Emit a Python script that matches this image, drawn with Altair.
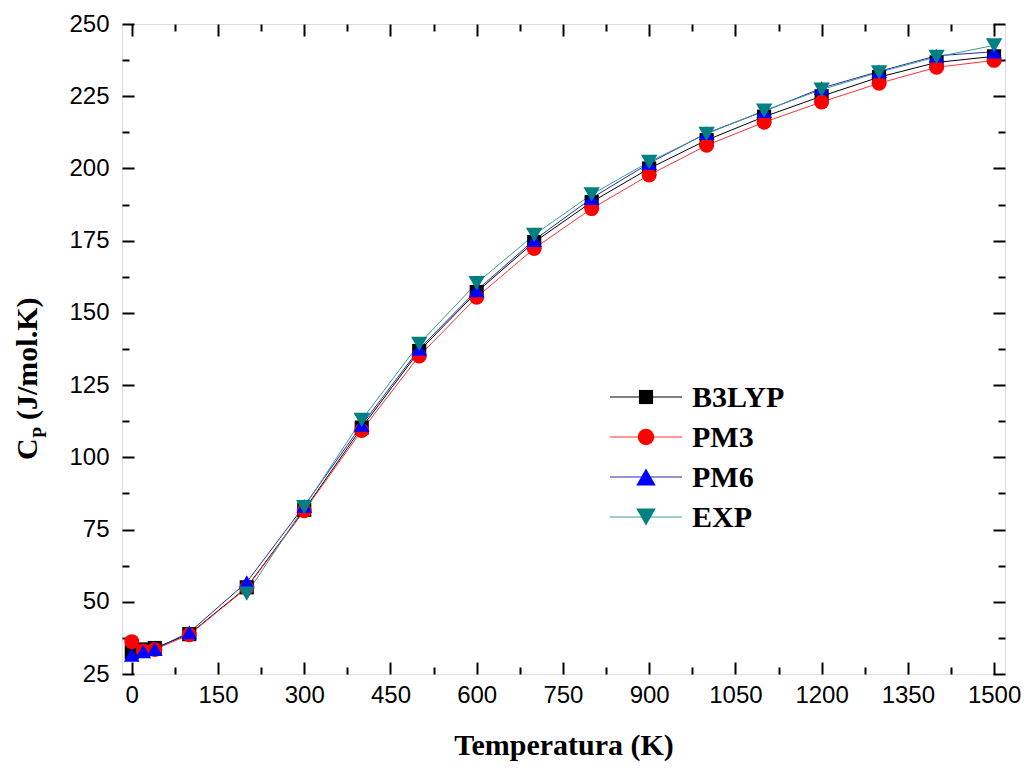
import altair as alt
import pandas as pd

# ---- data ----
T_calc = [0, 20, 40, 100, 200, 300, 400, 500, 600, 700, 800, 900, 1000, 1100, 1200, 1300, 1400, 1500]
b3lyp = [32.5, 33.5, 34.0, 38.8, 55.0, 81.8, 110.3, 136.8, 157.2, 174.5, 188.4, 200.0, 209.8, 217.9, 225.0, 231.6, 236.7, 238.8]
pm3 = [36.2, 33.0, 33.5, 38.6, 54.8, 81.5, 109.3, 135.1, 155.4, 172.3, 186.1, 197.7, 208.0, 216.0, 223.0, 229.5, 235.0, 237.4]
pm6 = [31.6, 32.8, 33.6, 39.4, 56.8, 83.2, 111.2, 137.5, 157.8, 175.2, 189.7, 201.8, 212.2, 219.8, 227.8, 233.6, 239.0, 240.4]
T_exp = [200, 300, 400, 500, 600, 700, 800, 900, 1000, 1100, 1200, 1300, 1400, 1500]
exp = [52.8, 82.8, 113.0, 139.3, 160.3, 177.0, 191.0, 202.3, 212.0, 220.0, 227.3, 233.3, 238.6, 242.6]

series_names = ["B3LYP", "PM3", "PM6", "EXP"]
marker_colors = ["#000000", "#ff0000", "#0000ff", "#008080"]
line_colors = ["#000000", "#ff3030", "#2828a8", "#3a9a9a"]
shapes = ["square", "circle", "triangle-up", "triangle-down"]
marker_sizes = [200, 270, 380, 380]

x_major = [0, 150, 300, 450, 600, 750, 900, 1050, 1200, 1350, 1500]
x_minor = [75, 225, 375, 525, 675, 825, 975, 1125, 1275, 1425]
y_major = [25, 50, 75, 100, 125, 150, 175, 200, 225, 250]
y_minor = [37.5, 62.5, 87.5, 112.5, 137.5, 162.5, 187.5, 212.5, 237.5]

rows = []
for name, ts, vals in [("B3LYP", T_calc, b3lyp), ("PM3", T_calc, pm3),
                       ("PM6", T_calc, pm6), ("EXP", T_exp, exp)]:
    for t, v in zip(ts, vals):
        rows.append({"T": t, "Cp": v, "series": name, "k": series_names.index(name)})
df = pd.DataFrame(rows)

W, H = 883, 650
xs = alt.Scale(domain=[-17, 1519], nice=False, zero=False)
ys = alt.Scale(domain=[25, 250], nice=False, zero=False)

base = alt.Chart(df)

lines = base.mark_line(strokeWidth=1).encode(
    x=alt.X("T:Q", scale=xs, axis=alt.Axis(
        values=x_major, format="d", title="Temperatura (K)", ticks=False, tickSize=0, domain=False, grid=False,
        labelFont="Liberation Sans", labelFontSize=24, labelColor="black", labelPadding=9,
        titleFont="Liberation Serif", titleFontWeight="bold", titleFontSize=30, titleColor="black",
        titlePadding=23)),
    y=alt.Y("Cp:Q", scale=ys, axis=alt.Axis(
        values=y_major, format="d", title=None, ticks=False, tickSize=0, domain=False, grid=False,
        labelFont="Liberation Sans", labelFontSize=24, labelColor="black", labelPadding=13)),
    color=alt.Color("series:N", scale=alt.Scale(domain=series_names, range=line_colors), legend=None),
    order="T:Q",
)

points = base.mark_point(filled=True, opacity=1, strokeWidth=0).encode(
    x=alt.X("T:Q", scale=xs, axis=None),
    y=alt.Y("Cp:Q", scale=ys, axis=None),
    fill=alt.Fill("series:N", scale=alt.Scale(domain=series_names, range=marker_colors), legend=None),
    shape=alt.Shape("series:N", scale=alt.Scale(domain=series_names, range=shapes), legend=None),
    size=alt.Size("series:N", scale=alt.Scale(domain=series_names, range=marker_sizes), legend=None),
    order="k:Q",
)


def tick_axis(orient, values, size, offset):
    return alt.Axis(orient=orient, offset=offset, values=values, labels=False, domain=False,
                    grid=False, ticks=True, tickSize=size, tickWidth=2, tickColor="black", title=None)


tick_layers = []
for orient, vals, size in [("top", x_major, 12), ("top", x_minor, 7),
                           ("bottom", x_major, 12), ("bottom", x_minor, 7)]:
    tick_layers.append(base.mark_point(opacity=0).encode(
        x=alt.X("T:Q", scale=xs, axis=tick_axis(orient, vals, size, -H)),
        y=alt.Y("Cp:Q", scale=ys, axis=None)))
for orient, vals, size in [("right", y_major, 12), ("right", y_minor, 7),
                           ("left", y_major, 12), ("left", y_minor, 7)]:
    tick_layers.append(base.mark_point(opacity=0).encode(
        x=alt.X("T:Q", scale=xs, axis=None),
        y=alt.Y("Cp:Q", scale=ys, axis=tick_axis(orient, vals, size, -W))))

# ---- manual legend (line + symbol + label) ----
legend_layers = []
lx0, lx1, lsym, ltxt, ly0, ldy = 488, 560, 524, 570, 373, 40
for i, name in enumerate(series_names):
    one = alt.Chart(pd.DataFrame({"series": [name]}))
    yy = ly0 + i * ldy
    legend_layers.append(one.mark_rule(strokeWidth=1, color=line_colors[i]).encode(
        x=alt.value(lx0), x2=alt.value(lx1), y=alt.value(yy)))
    legend_layers.append(one.mark_point(filled=True, opacity=1, size=marker_sizes[i], strokeWidth=0,
                                        shape=shapes[i], fill=marker_colors[i]).encode(
        x=alt.value(lsym), y=alt.value(yy)))
    legend_layers.append(one.mark_text(align="left", baseline="middle", font="Liberation Serif",
                                       fontWeight="bold", fontSize=30, color="black", dy=1).encode(
        x=alt.value(ltxt), y=alt.value(yy), text="series:N"))

# ---- y title: C with subscript P ----
ttl = alt.Chart(pd.DataFrame({"a": [0]}))
ytitle = [
    ttl.mark_text(text="C", angle=270, align="left", baseline="alphabetic", font="Liberation Serif",
                  fontWeight="bold", fontSize=30, color="black").encode(x=alt.value(-85), y=alt.value(436)),
    ttl.mark_text(text="P", angle=270, align="left", baseline="alphabetic", font="Liberation Serif",
                  fontWeight="bold", fontSize=18, color="black").encode(x=alt.value(-76), y=alt.value(414)),
    ttl.mark_text(text="(J/mol.K)", angle=270, align="left", baseline="alphabetic", font="Liberation Serif",
                  fontWeight="bold", fontSize=30, color="black").encode(x=alt.value(-85), y=alt.value(396)),
]

chart = alt.layer(lines, points, *tick_layers, *legend_layers, *ytitle).resolve_axis(
    x="independent", y="independent"
).resolve_scale(color="independent", fill="independent", shape="independent", size="independent").properties(
    width=W, height=H,
    autosize=alt.AutoSizeParams(type="none"),
    padding={"left": 114, "top": 16, "right": 18, "bottom": 88},
).configure_view(stroke="black", strokeWidth=2).configure(background="white")

chart.save("out.html", embed_options={"renderer": "svg", "actions": False})
